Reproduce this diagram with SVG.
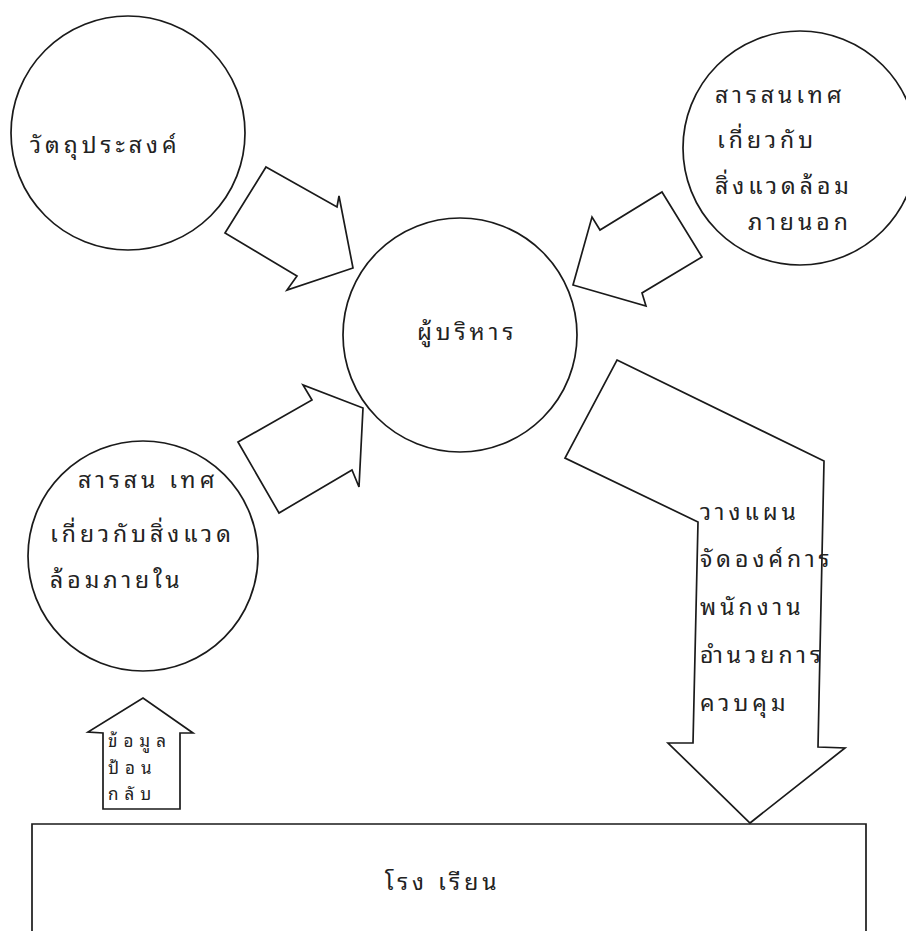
<svg xmlns="http://www.w3.org/2000/svg" width="906" height="931" viewBox="0 0 906 931">
<style>
.s{fill:#fff;stroke:#1a1a1a;stroke-width:1.7;stroke-linejoin:miter}
.o{fill:none;stroke:#1a1a1a;stroke-width:1.7}
.t{font-family:"Noto Sans Thai Looped","Noto Sans Thai","Noto Sans","DejaVu Sans",sans-serif;font-size:23px;letter-spacing:4px;fill:#222}
.f{font-size:17px;letter-spacing:6px}
</style>
<rect width="906" height="931" fill="#fff"/>
<g id="connectors">
<polygon id="arrow-objective" class="s" points="266,167 337,207 339,196 353,268 287,290 297,276 225,233"/>
<polygon id="arrow-internal" class="s" points="238,442 312,400 303,385 363,408 359,487 352,470 279,513"/>
<polygon id="arrow-external" class="s" points="662,192 702,257 642,293 646,306 573,285 592,217 600,230"/>
<polygon id="arrow-functions" class="s" points="617,360 824,461 818,747 845,748 750,823 668,743 693,743 698,522 565,458"/>
<polygon id="arrow-feedback" class="s" points="103,809 103,733 88,732 143,698 193,733 180,733 180,809"/>
</g>
<g id="node-objective">
<circle class="o" cx="128" cy="133" r="117"/>
<text class="t" x="30" y="153">วัตถุประสงค์</text>
</g>
<g id="node-external">
<circle class="o" cx="800" cy="148" r="117"/>
<text class="t" x="715" y="103">สารสนเทศ</text>
<text class="t" x="717" y="148">เกี่ยวกับ</text>
<text class="t" x="715" y="194">สิ่งแวดล้อม</text>
<text class="t" x="748" y="230">ภายนอก</text>
</g>
<g id="node-admin">
<circle class="o" cx="460" cy="335" r="117"/>
<text class="t" x="417" y="340">ผู้บริหาร</text>
</g>
<g id="node-internal">
<circle class="o" cx="143" cy="556" r="115"/>
<text class="t" x="78" y="488">สารสน เทศ</text>
<text class="t" x="50" y="542">เกี่ยวกับสิ่งแวด</text>
<text class="t" x="50" y="588">ล้อมภายใน</text>
</g>
<g id="label-functions">
<text class="t" x="700" y="520">วางแผน</text>
<text class="t" x="700" y="567">จัดองค์การ</text>
<text class="t" x="700" y="615">พนักงาน</text>
<text class="t" x="700" y="663">อำนวยการ</text>
<text class="t" x="700" y="711">ควบคุม</text>
</g>
<g id="label-feedback">
<text class="t f" x="108" y="747">ข้อมูล</text>
<text class="t f" x="108" y="774">ป้อน</text>
<text class="t f" x="108" y="800">กลับ</text>
</g>
<g id="node-school">
<path class="o" d="M32,931 V824 H866 V931"/>
<text class="t" x="385" y="890">โรง เรียน</text>
</g>
</svg>
